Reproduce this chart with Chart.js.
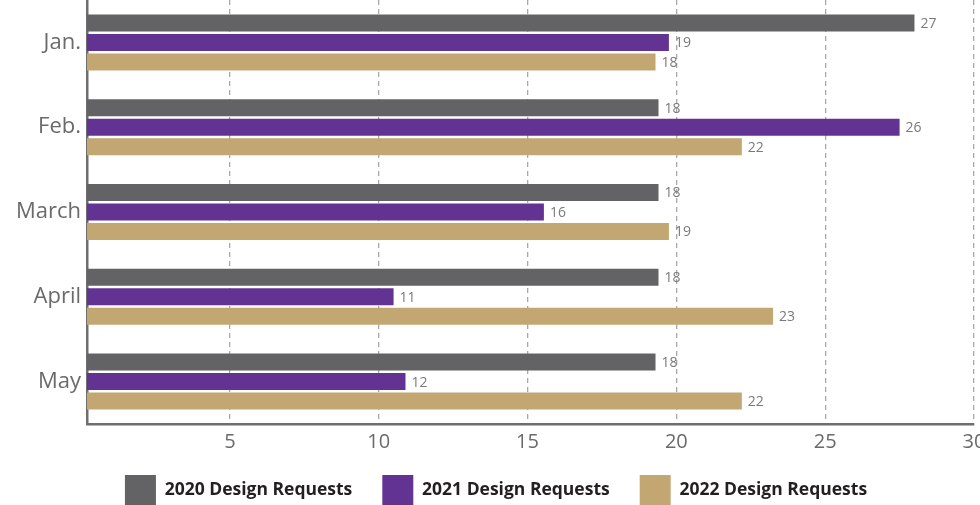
<!DOCTYPE html>
<html>
<head>
<meta charset="utf-8">
<script src="https://cdn.jsdelivr.net/npm/chart.js@4/dist/chart.umd.min.js"></script>
<style>
  html, body { margin: 0; padding: 0; overflow: hidden; background: #fff; }
  #wrap { position: absolute; left: 0; top: 0; width: 980px; height: 526px; }
</style>
</head>
<body>
<div id="wrap"><canvas id="c"></canvas></div>
<script>
// Categories
const months = ['Jan.', 'Feb.', 'March', 'April', 'May'];
// Series names
const seriesNames = ['2020 Design Requests', '2021 Design Requests', '2022 Design Requests'];
// Bar lengths
const values2020 = [28.0, 19.4, 19.4, 19.4, 19.3];
const values2021 = [19.75, 27.5, 15.55, 10.5, 10.9];
const values2022 = [19.3, 22.2, 19.75, 23.25, 22.2];
// Value labels printed beside the bars
const labels2020 = ['27', '18', '18', '18', '18'];
const labels2021 = ['19', '26', '16', '11', '12'];
const labels2022 = ['18', '22', '19', '23', '22'];
// Axis ticks
const xTicks = [5, 10, 15, 20, 25, 30];
const xMin = 0.2, xMax = 30;

const colors = ['#636365', '#623393', '#c2a773'];

const valueLabelPlugin = {
  id: 'valueLabels',
  afterDatasetsDraw(chart) {
    const ctx = chart.ctx;
    ctx.save();
    ctx.font = '14px "Open Sans"';
    ctx.fillStyle = '#7a7a7a';
    ctx.textBaseline = 'middle';
    ctx.textAlign = 'left';
    chart.data.datasets.forEach((ds, i) => {
      const meta = chart.getDatasetMeta(i);
      meta.data.forEach((bar, j) => {
        ctx.fillText(ds.valueLabels[j], bar.x + 6, bar.y + 1);
      });
    });
    ctx.restore();
  }
};

// Nudge the legend so its boxes sit right under the axis labels.
const legendNudgePlugin = {
  id: 'legendNudge',
  afterLayout(chart) {
    const lg = chart.legend;
    if (!lg) return;
    const dy = 11, dx = 9;
    lg.top -= dy;
    lg.bottom -= dy;
    lg.left += dx;
    lg.right += dx;
  }
};

new Chart(document.getElementById('c'), {
  type: 'bar',
  data: {
    labels: months,
    datasets: [
      { label: seriesNames[0], data: values2020, valueLabels: labels2020, backgroundColor: colors[0] },
      { label: seriesNames[1], data: values2021, valueLabels: labels2021, backgroundColor: colors[1] },
      { label: seriesNames[2], data: values2022, valueLabels: labels2022, backgroundColor: colors[2] }
    ]
  },
  options: {
    indexAxis: 'y',
    responsive: true,
    maintainAspectRatio: false,
    animation: false,
    layout: { padding: { left: 0, right: 6, top: 0, bottom: 0 } },
    datasets: { bar: { categoryPercentage: 0.69, barPercentage: 0.87 } },
    scales: {
      x: {
        type: 'linear',
        min: xMin,
        max: xMax,
        afterBuildTicks(scale) {
          scale.ticks = xTicks.map(v => ({ value: v }));
        },
        afterFit(scale) {
          scale.height = 32;
          scale.paddingLeft = 0;
          scale.paddingRight = 0;
        },
        grid: {
          color: '#a8a8a8',
          lineWidth: 1.3,
          drawTicks: false,
          tickLength: 0
        },
        border: { display: true, color: '#6e6e6e', width: 2.5, dash: [5, 4] },
        ticks: {
          color: '#6a6a6a',
          font: { family: '"Open Sans"', size: 20 },
          padding: 6
        }
      },
      y: {
        afterFit(scale) {
          scale.width = 87;
          scale.paddingTop = 0;
          scale.paddingBottom = 0;
        },
        grid: { display: false, drawTicks: false },
        border: { display: true, color: '#6e6e6e', width: 2.5 },
        ticks: {
          color: '#6a6a6a',
          font: { family: '"Open Sans"', size: 22 },
          padding: 6
        }
      }
    },
    plugins: {
      tooltip: { enabled: false },
      legend: {
        position: 'bottom',
        labels: {
          boxWidth: 31,
          boxHeight: 30,
          padding: 30,
          color: '#231f20',
          font: { family: '"Open Sans"', size: 17.5, weight: '700' }
        }
      }
    }
  },
  plugins: [valueLabelPlugin, legendNudgePlugin]
});
</script>
</body>
</html>
